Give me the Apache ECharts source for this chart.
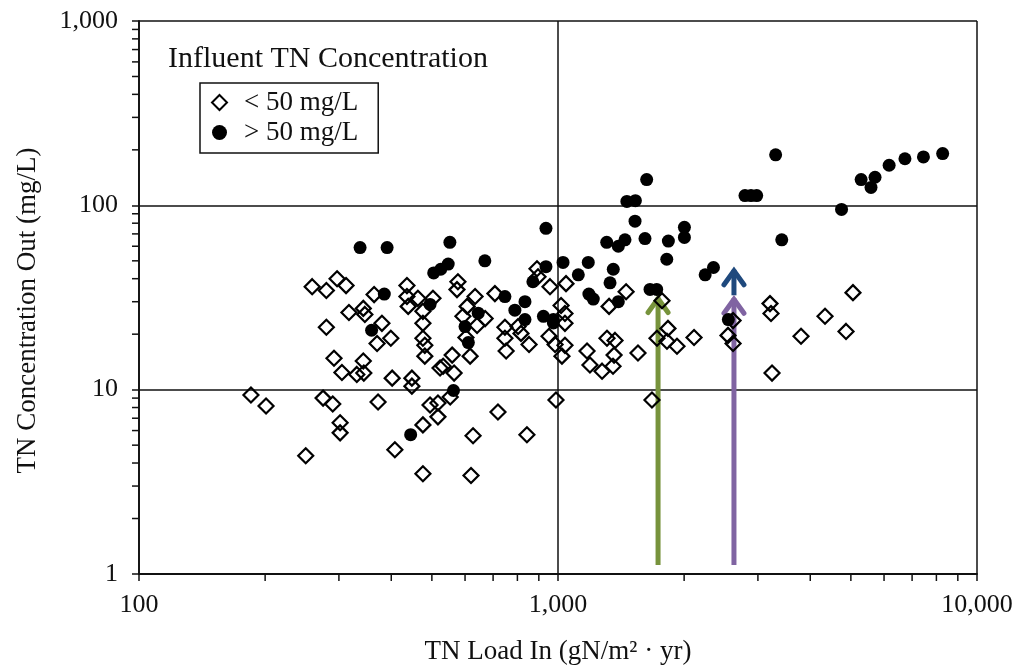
<!DOCTYPE html>
<html>
<head>
<meta charset="utf-8">
<script src="https://cdn.jsdelivr.net/npm/echarts@6/dist/echarts.min.js"></script>
<style>
html,body{margin:0;padding:0;background:#fff;}
#chart{width:1020px;height:670px;}
</style>
</head>
<body>
<div id="chart"></div>
<script>
// ---- Data ----
// Influent TN < 50 mg/L (open diamonds)
const lowLoad = [185,201,250,259,280,297,312,280,275,290,292,305,302,302,317,343,346,364,343,331,344,372,380,399,370,402,408,436,436,439,448,448,463,476,476,476,481,481,503,476,476,495,517,517,523,532,553,559,565,577,574,634,607,593,670,641,603,617,627,620,707,719,747,747,752,803,816,853,843,891,896,957,952,984,989,1022,1045,1017,1039,1039,1039,1173,1192,1274,1309,1368,1361,1353,1324,1454,1552,1676,1723,1771,1830,1820,1923,2112,2545,2617,2617,3206,3224,3802,4338,5058,4869,3242];
const lowConc = [9.35,8.16,4.38,36.2,34.5,40.0,36.7,21.8,9.0,8.36,14.8,12.4,6.61,5.83,26.2,27.6,25.6,32.8,14.3,12.1,12.3,8.57,22.9,19.0,17.8,11.55,4.72,36.7,32.0,28.3,11.55,10.45,31.3,26.6,22.9,19.0,17.4,15.2,31.3,6.44,3.50,8.26,8.47,7.12,13.1,13.4,9.12,15.4,12.3,38.5,34.9,32.0,28.3,25.0,24.3,22.3,19.2,15.2,5.62,3.42,33.2,7.57,21.8,19.0,16.2,22.0,20.2,17.6,5.69,45.3,41.0,36.2,19.5,17.6,8.79,15.2,37.6,28.6,25.9,22.9,17.4,16.2,13.6,12.6,19.0,18.5,15.4,13.4,28.3,34.0,15.8,8.79,19.0,30.4,21.5,18.3,17.2,19.2,19.7,23.7,17.8,29.3,25.9,19.5,25.0,33.6,20.7,12.3];
// Influent TN > 50 mg/L (filled circles)
const highLoad = [337,391,552,669,936,547,505,525,1028,936,871,385,747,789,834,834,923,975,975,495,645,600,359,611,563,445,1628,1460,1530,1527,1307,1393,1445,1613,1834,2003,2003,1818,1181,1355,1118,1331,1185,1214,1393,1658,1720,2245,2350,2550,3307,2794,2888,2980,3420,4750,5290,5710,5585,6170,6730,7450,8280];
const highConc = [59,59,63,50,75,48,43,45,49,46.5,38.5,33,32,27,30,24,25,24,23,29,26,22,21,18,9.9,5.7,138,105,106,82,63,60,65,66,64,76,67,51,49,45,42,38,33,31,30,35,35,42,46,24,188,113,113,113,65,95,138,142,125,165,179,183,191];
// Annotation arrows: load, from-concentration, to-concentration (tip)
const arrowLoad = [1733, 2630, 2630];
const arrowFrom = [1.12, 32.5, 1.12];
const arrowTo   = [32.8, 46.4, 32.5];
// Axis ticks
const xMajor = [100, 1000, 10000];
const yMajor = [1, 10, 100, 1000];
const xMinor = [200,300,400,500,600,700,800,900,2000,3000,4000,5000,6000,7000,8000,9000];
const yMinor = [2,3,4,5,6,7,8,9,20,30,40,50,60,70,80,90,200,300,400,500,600,700,800,900];
const seriesNames = ['< 50 mg/L', '> 50 mg/L'];
const legendTitle = 'Influent TN Concentration';
const xName = 'TN Load In (gN/m\u00B2 \u00B7 yr)';
const yName = 'TN Concentration Out (mg/L)';

// ---- Styles ----
const FONT = 'Liberation Serif';
const INK = '#111';
const arrowColors = ['#77933C', '#1F497D', '#8064A2'];

const lowData = lowLoad.map((v, i) => [v, lowConc[i]]);
const highData = highLoad.map((v, i) => [v, highConc[i]]);
const arrowData = arrowLoad.map((v, i) => [v, arrowFrom[i], arrowTo[i], i]);
const tickData = xMinor.map(v => [v, yMajor[0], 0]).concat(yMinor.map(v => [xMajor[0], v, 1]));

const fmt = v => Math.round(v).toLocaleString('en-US');

const chart = echarts.init(document.getElementById('chart'), null, {renderer: 'canvas'});
chart.setOption({
  animation: false,
  backgroundColor: '#fff',
  title: {
    text: legendTitle,
    left: 163, top: 39,
    textStyle: {fontFamily: FONT, fontSize: 30, fontWeight: 'normal', color: INK}
  },
  legend: {
    data: seriesNames,
    orient: 'vertical',
    left: 200, top: 83,
    padding: [6, 20, 7, 11],
    itemGap: 3,
    itemWidth: 15, itemHeight: 15,
    borderColor: INK, borderWidth: 1.5,
    textStyle: {fontFamily: FONT, fontSize: 27, color: INK, padding: [0, 0, 0, 12]}
  },
  grid: {left: 139, right: 43, top: 21, bottom: 94, containLabel: false},
  xAxis: {
    type: 'log', logBase: 10, min: xMajor[0], max: xMajor[xMajor.length - 1],
    name: xName, nameLocation: 'middle', nameGap: 64,
    nameTextStyle: {fontFamily: FONT, fontSize: 27, color: INK},
    axisLine: {show: true, lineStyle: {color: INK, width: 1.8}},
    axisTick: {show: true, inside: false, length: 7, lineStyle: {color: INK, width: 1.5}},
    axisLabel: {fontFamily: FONT, fontSize: 26, color: INK, margin: 18, formatter: fmt},
    splitLine: {show: true, lineStyle: {color: INK, width: 1.5}}
  },
  yAxis: {
    type: 'log', logBase: 10, min: yMajor[0], max: yMajor[yMajor.length - 1],
    name: yName, nameLocation: 'middle', nameGap: 98, nameRotate: 90,
    nameTextStyle: {fontFamily: FONT, fontSize: 27, color: INK, padding: [0, 26, 0, 0]},
    axisLine: {show: true, lineStyle: {color: INK, width: 1.8}},
    axisTick: {show: true, inside: false, length: 7, lineStyle: {color: INK, width: 1.5}},
    axisLabel: {fontFamily: FONT, fontSize: 26, color: INK, margin: 21, formatter: fmt},
    splitLine: {show: true, lineStyle: {color: INK, width: 1.5}}
  },
  series: [
    {
      name: 'minorTicks', type: 'custom', silent: true, clip: false,
      data: tickData,
      renderItem: function (params, api) {
        const p = api.coord([api.value(0), api.value(1)]);
        const vertical = api.value(2) === 0;
        return {
          type: 'line',
          shape: vertical ? {x1: p[0], y1: p[1], x2: p[0], y2: p[1] + 7}
                          : {x1: p[0], y1: p[1], x2: p[0] - 7, y2: p[1]},
          style: {stroke: INK, lineWidth: 1.5}
        };
      }
    },
    {
      name: seriesNames[0], type: 'scatter', symbol: 'diamond', symbolSize: 15,
      data: lowData,
      itemStyle: {color: 'rgba(255,255,255,0)', borderColor: '#000', borderWidth: 2.2, opacity: 1}
    },
    {
      name: seriesNames[1], type: 'scatter', symbol: 'circle', symbolSize: 13,
      data: highData,
      itemStyle: {color: '#000', opacity: 1}
    },
    {
      name: 'arrows', type: 'custom', silent: true, clip: false,
      data: arrowData,
      renderItem: function (params, api) {
        const p0 = api.coord([api.value(0), api.value(1)]);
        const p1 = api.coord([api.value(0), api.value(2)]);
        const c = arrowColors[api.value(3)];
        return {
          type: 'group',
          children: [
            {type: 'line', shape: {x1: p0[0], y1: p0[1], x2: p1[0], y2: p1[1] + 3},
             style: {stroke: c, lineWidth: 5}},
            {type: 'polyline', shape: {points: [[p1[0] - 10, p1[1] + 18], [p1[0], p1[1] + 4], [p1[0] + 10, p1[1] + 18]]},
             style: {stroke: c, lineWidth: 5, fill: null, lineCap: 'round', lineJoin: 'miter'}}
          ]
        };
      }
    }
  ]
});
</script>
</body>
</html>
